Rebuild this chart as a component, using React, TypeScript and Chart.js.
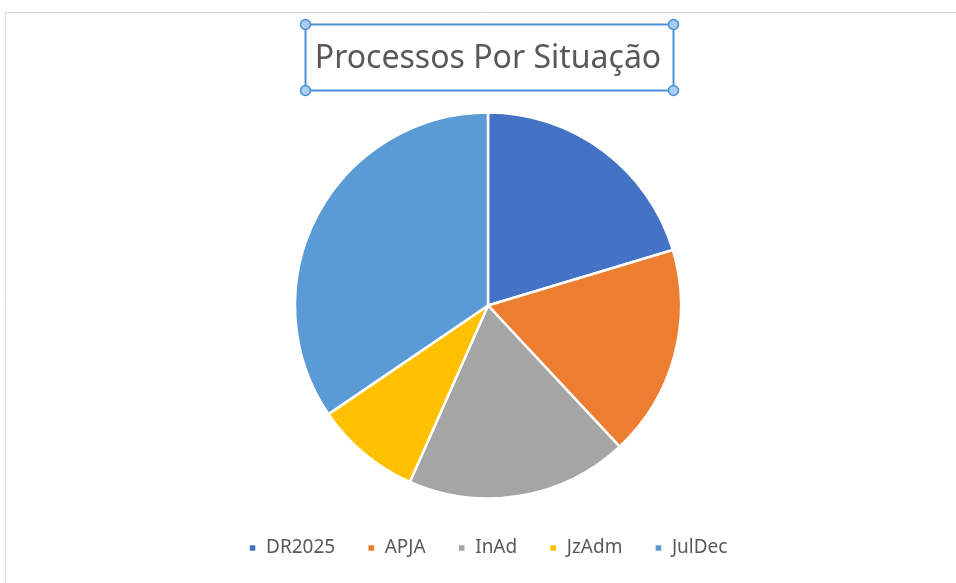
import React, { useEffect, useRef } from "react";
import { Chart, registerables } from "chart.js";

Chart.register(...registerables);

const TITLE = "Processos Por Situação";
const categories = ["DR2025", "APJA", "InAd", "JzAdm", "JulDec"];
const values = [23, 20, 21, 10, 39];
const colors = ["#4472C4", "#ED7D31", "#A5A5A5", "#FFC000", "#5B9BD5"];

const framePlugin = {
  id: "frameAndTitleBox",
  beforeDraw(chart: any) {
    const ctx = chart.ctx;
    ctx.save();
    ctx.strokeStyle = "#d9d9d9";
    ctx.lineWidth = 1;
    ctx.beginPath();
    ctx.moveTo(5.5, chart.height);
    ctx.lineTo(5.5, 12.5);
    ctx.lineTo(chart.width, 12.5);
    ctx.stroke();
    ctx.restore();
  },
  afterDraw(chart: any) {
    const tb = chart.titleBlock;
    if (!tb) return;
    const ctx = chart.ctx;
    const font = tb.options.font;
    ctx.save();
    ctx.font = `${font.weight || "normal"} ${font.size}px ${font.family}`;
    const w = ctx.measureText(TITLE).width;
    const cx = (chart.chartArea.left + chart.chartArea.right) / 2;
    const pad = tb.options.padding;
    const cy = tb.top + pad.top + (font.size * 1.2) / 2;
    const x0 = Math.round(cx - w / 2 - 10) + 0.5;
    const x1 = Math.round(cx + w / 2 + 12) + 0.5;
    const y0 = Math.round(cy - 35) + 0.5;
    const y1 = Math.round(cy + 31) + 0.5;
    ctx.strokeStyle = "#4a90d9";
    ctx.lineWidth = 2;
    ctx.strokeRect(x0, y0, x1 - x0, y1 - y0);
    const pts = [[x0, y0], [x1, y0], [x0, y1], [x1, y1]];
    for (const [px, py] of pts) {
      ctx.beginPath();
      ctx.arc(px, py, 5, 0, Math.PI * 2);
      ctx.fillStyle = "#a9cdf2";
      ctx.fill();
      ctx.lineWidth = 1.5;
      ctx.strokeStyle = "#4a90d9";
      ctx.stroke();
    }
    ctx.restore();
  },
};

export default function App() {
  const ref = useRef<HTMLCanvasElement | null>(null);
  useEffect(() => {
    document.body.style.margin = "0";
    const chart = new Chart(ref.current as HTMLCanvasElement, {
      type: "pie",
      data: {
        labels: categories,
        datasets: [
          {
            data: values,
            backgroundColor: colors,
            borderColor: "#ffffff",
            borderWidth: 2.5,
            radius: 193,
          } as any,
        ],
      },
      options: {
        animation: false,
        responsive: false,
        layout: { padding: { left: 20, right: 0, top: 0, bottom: 15.5 } },
        plugins: {
          title: {
            display: true,
            text: TITLE,
            color: "#595959",
            font: { family: "'Noto Sans', sans-serif", size: 32, weight: "normal" as any },
            padding: { top: 39.8, bottom: 26.3 },
          },
          legend: {
            display: true,
            position: "bottom",
            labels: {
              color: "#595959",
              font: { family: "'Noto Sans', sans-serif", size: 19 },
              boxWidth: 8,
              boxHeight: 8,
              padding: 32,
            },
          },
          tooltip: { enabled: false },
        },
      },
      plugins: [framePlugin],
    });
    return () => chart.destroy();
  }, []);
  return (
    <div style={{ position: "absolute", left: 0, top: 0, width: 956, height: 583, background: "#fff" }}>
      <canvas ref={ref} width={956} height={583} style={{ display: "block" }} />
    </div>
  );
}
